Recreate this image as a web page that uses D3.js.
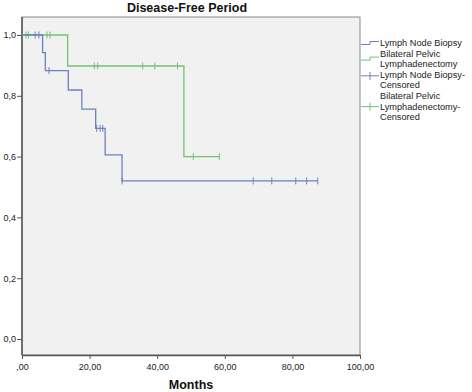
<!DOCTYPE html>
<html>
<head>
<meta charset="utf-8">
<script src="https://cdn.jsdelivr.net/npm/d3@7"></script>
<style>
  body { margin: 0; background: #fff; }
  svg { display: block; }
</style>
</head>
<body>
<div id="chart"></div>
<script>
// Kaplan-Meier curves (months, cumulative survival)
var lnbEventTimes = [6.1, 6.9, 13.7, 17.7, 21.8, 24.6, 29.6];
var lnbSurvival   = [0.942, 0.883, 0.819, 0.756, 0.693, 0.606, 0.52];
var lnbCensorTimes = [3.9, 5.0, 8.0, 22.1, 23.1, 23.9, 29.6, 68.4, 73.9, 81.0, 84.2, 87.5];

var bplEventTimes = [13.5, 47.9];
var bplSurvival   = [0.898, 0.60];
var bplCensorTimes = [1.2, 1.9, 7.4, 8.3, 21.4, 22.4, 35.7, 39.3, 46.0, 50.7, 58.4];

var xTicks = [0, 20, 40, 60, 80, 100];
var xTickLabels = [",00", "20,00", "40,00", "60,00", "80,00", "100,00"];
var yTicks = [0, 0.2, 0.4, 0.6, 0.8, 1.0];
var yTickLabels = ["0,0", "0,2", "0,4", "0,6", "0,8", "1,0"];

var legendLabels = [
  ["Lymph Node Biopsy"],
  ["Bilateral Pelvic", "Lymphadenectomy"],
  ["Lymph Node Biopsy-", "Censored"],
  ["Bilateral Pelvic", "Lymphadenectomy-", "Censored"]
];
var legendKinds = ["step", "step", "censor", "censor"];

var BLUE = "#7080bf", GREEN = "#70c470";
var legendColors = [BLUE, GREEN, BLUE, GREEN];

var W = 472, H = 392;
var frame = {left: 22, right: 360, top: 17, bottom: 355};

var svg = d3.select("#chart").append("svg")
    .attr("width", W)
    .attr("height", H)
    .style("font-family", "'Liberation Sans', Arial, sans-serif");

var x = d3.scaleLinear().domain([0, 100]).range([frame.left, frame.right]);
var y = d3.scaleLinear().domain([0, 1]).range([339, 35]);

// plot area
svg.append("rect")
    .attr("x", frame.left)
    .attr("y", frame.top)
    .attr("width", frame.right - frame.left)
    .attr("height", frame.bottom - frame.top)
    .attr("fill", "#f1f1f1")
    .attr("stroke", "#8a8a8a")
    .attr("stroke-width", 1);

// title
svg.append("text")
    .attr("x", 187)
    .attr("y", 12)
    .attr("text-anchor", "middle")
    .attr("font-size", "12.5px")
    .attr("font-weight", "bold")
    .attr("fill", "#111")
    .text("Disease-Free Period");

// axes
var xAxis = svg.append("g")
    .attr("transform", "translate(0," + frame.bottom + ")")
    .call(d3.axisBottom(x)
      .tickValues(xTicks)
      .tickFormat(function(d, i) { return xTickLabels[i]; })
      .tickSize(4)
      .tickSizeOuter(0));
xAxis.select(".domain").attr("stroke", "#555").attr("stroke-width", 1.5);
xAxis.selectAll(".tick line").attr("stroke", "#555");
xAxis.selectAll("text").attr("font-size", "9px").attr("fill", "#222").attr("dy", "0.9em");

var yAxis = svg.append("g")
    .attr("transform", "translate(" + frame.left + ",0)")
    .call(d3.axisLeft(y)
      .tickValues(yTicks)
      .tickFormat(function(d, i) { return yTickLabels[i]; })
      .tickSize(5)
      .tickSizeOuter(0));
yAxis.select(".domain").remove();
yAxis.selectAll(".tick line").attr("stroke", "#555");
yAxis.selectAll("text").attr("font-size", "9px").attr("fill", "#222").attr("x", -6);

svg.append("line")
    .attr("x1", frame.left).attr("x2", frame.left)
    .attr("y1", frame.top).attr("y2", frame.bottom)
    .attr("stroke", "#555").attr("stroke-width", 1.5);

svg.append("text")
    .attr("x", 191)
    .attr("y", 389)
    .attr("text-anchor", "middle")
    .attr("font-size", "12.5px")
    .attr("font-weight", "bold")
    .attr("fill", "#111")
    .text("Months");

// step curves
function survivalAt(t, times, surv) {
  var s = 1;
  for (var i = 0; i < times.length; i++) if (times[i] <= t) s = surv[i];
  return s;
}

function drawCurve(times, surv, censors, color) {
  var end = d3.max(censors.concat(times));
  var pts = [[0, 1]];
  times.forEach(function(t, i) { pts.push([t, surv[i]]); });
  pts.push([end, surv[surv.length - 1]]);
  var line = d3.line()
      .x(function(d) { return x(d[0]); })
      .y(function(d) { return y(d[1]); })
      .curve(d3.curveStepAfter);
  svg.append("path")
      .attr("d", line(pts))
      .attr("fill", "none")
      .attr("stroke", color)
      .attr("stroke-width", 1.3);
  // censor ticks
  svg.append("g").selectAll("line")
      .data(censors)
      .enter()
      .append("line")
        .attr("x1", function(d) { return x(d); })
        .attr("x2", function(d) { return x(d); })
        .attr("y1", function(d) { return y(survivalAt(d, times, surv)) - 3.5; })
        .attr("y2", function(d) { return y(survivalAt(d, times, surv)) + 3.5; })
        .attr("stroke", color)
        .attr("stroke-width", 1);
}

drawCurve(bplEventTimes, bplSurvival, bplCensorTimes, GREEN);
drawCurve(lnbEventTimes, lnbSurvival, lnbCensorTimes, BLUE);

// legend
var lineH = 10.6;
var ly = 46;
legendLabels.forEach(function(lines, k) {
  var g = svg.append("g");
  var n = lines.length;
  var color = legendColors[k];
  var symY;
  if (legendKinds[k] === "step") {
    symY = (n === 1) ? ly - 3 : ly + 2;
    g.append("path")
      .attr("d", "M361," + (symY + 1.5) + "H370V" + (symY - 1.5) + "H379")
      .attr("fill", "none")
      .attr("stroke", color)
      .attr("stroke-width", 1);
  } else {
    symY = (n === 2) ? ly - 2 : ly + lineH - 3;
    g.append("line")
      .attr("x1", 361).attr("x2", 379)
      .attr("y1", symY).attr("y2", symY)
      .attr("stroke", color);
    g.append("line")
      .attr("x1", 370).attr("x2", 370)
      .attr("y1", symY - 4).attr("y2", symY + 4)
      .attr("stroke", color);
  }
  lines.forEach(function(txt, j) {
    g.append("text")
      .attr("x", 380)
      .attr("y", ly + j * lineH)
      .attr("font-size", "9.2px")
      .attr("fill", "#222")
      .text(txt);
  });
  ly += n * lineH;
});
</script>
</body>
</html>
